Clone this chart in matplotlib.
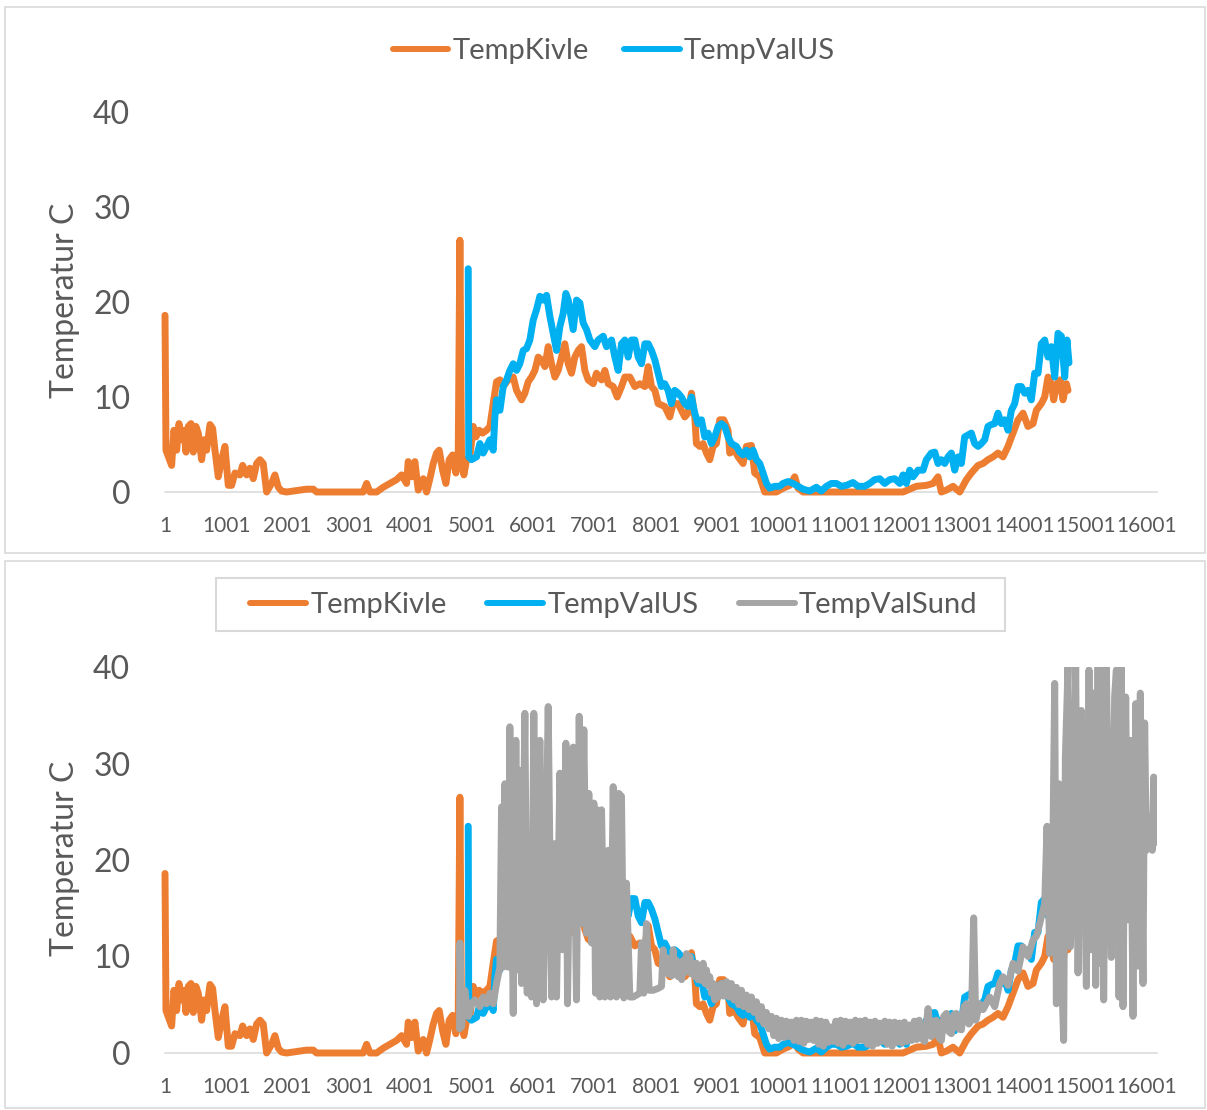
import matplotlib
matplotlib.use("Agg")
import matplotlib.pyplot as plt
from matplotlib.lines import Line2D
from matplotlib.patches import Rectangle

plt.rcParams['font.family'] = ['Lato', 'DejaVu Sans']

# Temperature logs, sample number vs. degrees C
kivle_idx = [1, 17, 109, 147, 191, 229, 272, 310, 343, 381, 424, 462, 505, 543, 598, 636, 679, 734, 777, 815,
             869, 924, 978, 1032, 1086, 1141, 1222, 1266, 1331, 1385, 1439, 1494, 1548, 1602, 1657, 1738, 1792,
             1847, 1901, 1982, 2308, 2417, 2471, 3231, 3286, 3340, 3449, 3557, 3666, 3774, 3856, 3937, 3964,
             4019, 4073, 4127, 4209, 4263, 4317, 4372, 4426, 4469, 4524, 4578, 4632, 4687, 4741, 4779, 4806,
             4833, 4871, 4915, 4969, 5023, 5067, 5121, 5175, 5240, 5295, 5349, 5403, 5458, 5512, 5593, 5675,
             5729, 5811, 5865, 5919, 5973, 6028, 6082, 6136, 6191, 6245, 6299, 6354, 6408, 6462, 6516, 6571,
             6625, 6679, 6734, 6788, 6842, 6897, 6978, 7032, 7114, 7168, 7223, 7304, 7369, 7440, 7494, 7575,
             7657, 7738, 7820, 7874, 7928, 7983, 8037, 8144, 8226, 8280, 8362, 8416, 8470, 8524, 8579, 8633,
             8660, 8715, 8769, 8823, 8877, 8932, 8986, 9040, 9105, 9176, 9203, 9285, 9339, 9420, 9475, 9556,
             9610, 9692, 9773, 9963, 10072, 10181, 10262, 10316, 10398, 12027, 12244, 12407, 12516, 12597,
             12651, 12733, 12841, 12950, 13059, 13140, 13249, 13330, 13411, 13493, 13574, 13656, 13737, 13819,
             13900, 13982, 14063, 14145, 14199, 14280, 14335, 14389, 14443, 14481, 14535, 14590, 14633, 14688,
             14715]
kivle_temp = [18.6, 4.4, 2.8, 6.5, 4.4, 7.2, 5.5, 6.5, 4.2, 6.9, 7.2, 4.2, 6.9, 6.2, 3.4, 5.5, 4.4, 7.1, 6.7, 4.4,
              1.6, 3.4, 4.8, 0.7, 0.7, 2.0, 1.8, 2.8, 1.8, 2.5, 1.4, 3.0, 3.4, 3.0, 0.0, 0.9, 1.8,
              0.5, 0.1, 0.0, 0.3, 0.3, 0.0, 0.0, 0.9, 0.0, 0.0, 0.5, 0.9, 1.3, 1.8, 0.9, 3.2,
              1.6, 3.2, 0.2, 1.4, 0.0, 1.4, 3.0, 4.1, 4.4, 2.3, 0.9, 3.4, 3.9, 2.0, 4.1, 26.5,
              3.4, 1.8, 3.4, 3.7, 6.9, 5.8, 6.5, 6.2, 6.5, 6.9, 9.3, 11.6, 11.8, 11.1, 11.8, 12.1,
              10.7, 9.7, 10.4, 11.6, 12.1, 12.8, 14.2, 13.9, 13.2, 15.3, 13.5, 12.1, 12.8, 14.2, 15.6, 13.5,
              12.5, 14.2, 14.9, 15.3, 12.8, 11.8, 11.4, 12.5, 11.8, 12.8, 11.4, 11.1, 10.0, 11.1, 12.1, 12.1,
              11.1, 11.4, 11.1, 13.2, 11.1, 10.7, 9.3, 9.0, 7.9, 9.3, 9.3, 8.6, 7.9, 8.3, 10.4, 7.9,
              5.1, 4.8, 5.1, 4.1, 3.4, 4.8, 5.1, 7.6, 7.6, 6.5, 4.1, 4.4, 3.7, 3.0, 4.8, 4.9,
              2.0, 1.6, 0.0, 0.0, 0.4, 0.7, 1.6, 0.4, 0.0, 0.0, 0.6, 0.7, 0.9, 1.6,
              0.0, 0.2, 0.6, 0.0, 1.3, 2.0, 2.8, 3.0, 3.4, 3.7, 4.1, 3.7, 4.8, 6.2,
              7.6, 8.3, 6.9, 7.2, 8.6, 9.3, 10.0, 12.1, 11.4, 9.7, 11.4, 11.8, 9.7, 11.4,
              10.7]

valus_idx = [4942, 4950, 4996, 5078, 5132, 5186, 5240, 5295, 5349, 5376, 5403, 5458, 5512, 5566, 5621, 5675,
             5729, 5783, 5838, 5892, 5946, 6001, 6055, 6109, 6164, 6218, 6272, 6326, 6381, 6435, 6489, 6533,
             6571, 6625, 6652, 6707, 6761, 6815, 6869, 6924, 7005, 7059, 7141, 7195, 7277, 7331, 7385, 7440,
             7494, 7548, 7602, 7657, 7711, 7765, 7820, 7874, 7928, 7983, 8037, 8090, 8144, 8199, 8253, 8307,
             8362, 8416, 8470, 8524, 8579, 8633, 8687, 8742, 8796, 8850, 8905, 8959, 9013, 9067, 9122, 9176,
             9230, 9312, 9366, 9420, 9475, 9529, 9583, 9638, 9692, 9746, 9801, 9855, 9936, 10018, 10072,
             10153, 10235, 10316, 10398, 10506, 10615, 10696, 10778, 10859, 10941, 11022, 11104, 11212, 11294,
             11402, 11484, 11565, 11647, 11728, 11810, 11891, 11973, 12027, 12081, 12135, 12190, 12271, 12353,
             12407, 12488, 12543, 12597, 12651, 12706, 12760, 12814, 12868, 12923, 12977, 13031, 13086, 13140,
             13194, 13249, 13303, 13357, 13411, 13466, 13520, 13574, 13629, 13683, 13737, 13792, 13846, 13900,
             13954, 14009, 14063, 14117, 14172, 14226, 14280, 14335, 14389, 14443, 14498, 14552, 14607, 14661,
             14698, 14731]
valus_temp = [23.5, 3.7, 3.4, 3.7, 5.1, 4.1, 4.8, 5.5, 4.4, 7.9, 9.7, 8.6, 11.1, 11.8, 12.8, 13.5,
              12.8, 13.5, 14.9, 15.1, 16.0, 18.1, 19.2, 20.6, 20.2, 20.7, 18.5, 16.7, 14.9, 17.4, 18.8, 20.9,
              20.2, 18.1, 17.1, 20.2, 19.9, 17.8, 17.1, 16.0, 15.3, 16.0, 16.4, 15.3, 16.0, 14.2, 12.8, 15.6,
              16.0, 14.2, 16.0, 16.0, 14.2, 13.5, 15.6, 15.6, 14.9, 13.9, 12.5, 11.1, 11.4, 10.7, 9.3, 10.7,
              10.4, 10.0, 9.3, 9.0, 10.0, 8.3, 7.2, 7.6, 5.8, 6.2, 5.1, 5.8, 6.9, 7.2, 6.9, 5.8,
              5.1, 4.8, 4.2, 3.9, 4.4, 3.7, 4.4, 3.4, 3.0, 2.0, 0.9, 0.4, 0.6, 0.6, 0.9,
              1.1, 0.9, 0.6, 0.3, 0.1, 0.5, 0.1, 0.6, 0.9, 0.9, 0.6, 0.7, 1.0, 0.6,
              0.6, 0.9, 1.3, 1.4, 0.9, 1.3, 1.4, 0.9, 1.8, 0.9, 2.3, 1.6, 2.3, 2.3,
              3.4, 4.1, 4.2, 3.0, 3.4, 3.0, 3.7, 4.1, 2.3, 3.7, 3.0, 5.8, 6.0, 6.2,
              5.1, 4.8, 5.1, 5.5, 6.9, 7.1, 7.2, 8.3, 7.2, 7.6, 6.5, 8.6, 9.3, 11.1,
              11.1, 10.4, 10.7, 9.7, 12.5, 12.5, 15.6, 16.0, 14.2, 15.3, 12.1, 16.7, 16.4, 12.1,
              16.0, 13.6]

valsund_idx = [4800, 4806, 4833, 4887, 4942, 4996, 5050, 5132, 5186, 5240, 5295, 5349, 5403, 5457, 5485, 5512,
               5539, 5593, 5620, 5675, 5718, 5756, 5783, 5810, 5865, 5903, 5935, 5973, 6011, 6055, 6109, 6163,
               6207, 6245, 6299, 6353, 6381, 6435, 6478, 6533, 6560, 6609, 6652, 6706, 6750, 6788, 6826, 6869,
               6907, 6951, 6989, 7016, 7043, 7086, 7114, 7168, 7222, 7260, 7304, 7358, 7396, 7439, 7477, 7521,
               7575, 7629, 7684, 7738, 7765, 7803, 7847, 7890, 7955, 8037, 8091, 8118, 8150, 8172, 8200, 8227,
               8260, 8281, 8310, 8335, 8365, 8390, 8420, 8444, 8470, 8498, 8525, 8553, 8580, 8607, 8635, 8661,
               8690, 8715, 8745, 8770, 8800, 8824, 8850, 8878, 8905, 8933, 8960, 8987, 9020, 9068, 9100, 9150,
               9190, 9231, 9270, 9313, 9350, 9394, 9430, 9476, 9515, 9557, 9600, 9639, 9680, 9720, 9760, 9801,
               9840, 9883, 9920, 9964, 10000, 10046, 10090, 10127, 10170, 10209, 10250, 10290, 10330, 10370,
               10410, 10450, 10490, 10530, 10570, 10610, 10650, 10690, 10730, 10770, 10810, 10850, 10890, 10930,
               10970, 11010, 11050, 11090, 11130, 11170, 11210, 11250, 11290, 11330, 11370, 11410, 11450, 11490,
               11530, 11570, 11610, 11650, 11690, 11730, 11770, 11810, 11850, 11890, 11930, 11970, 12010, 12050,
               12090, 12130, 12170, 12210, 12250, 12290, 12330, 12380, 12434, 12489, 12530, 12570, 12610, 12652,
               12690, 12733, 12775, 12815, 12855, 12896, 12935, 12978, 13020, 13059, 13100, 13140, 13178, 13211,
               13276, 13331, 13439, 13521, 13602, 13656, 13738, 13819, 13901, 13982, 14064, 14145, 14199, 14254,
               14335, 14373, 14416, 14460, 14498, 14525, 14568, 14606, 14644, 14672, 14715, 14753, 14797, 14840,
               14878, 14932, 14970, 15014, 15057, 15095, 15133, 15166, 15204, 15231, 15274, 15296, 15340, 15383,
               15421, 15475, 15503, 15546, 15584, 15611, 15655, 15693, 15731, 15774, 15818, 15855, 15893, 15937,
               15964, 15991, 16018, 16056, 16089, 16111, 16143, 16165]
valsund_temp = [2.5, 11.4, 2.7, 6.5, 3.8, 5.1, 5.5, 4.8, 5.8, 5.1, 6.2, 5.1, 7.2, 8.9, 25.5, 8.9,
                27.9, 8.9, 33.8, 4.1, 32.4, 8.6, 29.3, 7.2, 35.2, 6.2, 21.0, 5.8, 35.2, 5.1, 32.4, 5.5,
                20.3, 35.9, 5.8, 21.7, 5.8, 29.0, 10.7, 32.1, 5.1, 28.6, 31.7, 5.5, 34.9, 13.4, 33.5, 12.4,
                26.9, 11.4, 25.9, 6.2, 25.2, 5.8, 25.2, 5.8, 21.0, 5.8, 27.6, 5.8, 26.9, 26.6, 5.7, 17.6,
                5.8, 5.8, 6.0, 6.2, 11.4, 6.2, 13.4, 6.5, 6.5, 6.7, 6.9, 10.7, 8.6, 9.9, 8.2, 9.6,
                8.0, 10.7, 8.3, 9.6, 7.9, 8.9, 7.6, 9.6, 8.3, 10.3, 8.6, 10.0, 8.2, 9.3, 7.9, 9.3,
                7.6, 8.9, 7.5, 9.3, 7.2, 8.6, 7.0, 7.9, 6.2, 7.2, 5.5, 7.0, 5.8, 7.2, 5.9, 7.4,
                5.8, 7.2, 5.5, 6.8, 5.0, 6.5, 4.8, 6.0, 4.5, 5.8, 4.2, 5.3, 3.5, 4.8, 3.0, 4.2,
                2.5, 3.8, 1.8, 3.6, 1.5, 3.4, 1.6, 3.3, 1.7, 3.2, 1.3, 3.4, 1.2, 3.4,
                1.0, 3.3, 1.4, 3.2, 1.3, 3.4, 0.9, 3.3, 0.7, 3.2, 1.1, 2.7, 1.2, 3.3,
                1.0, 3.4, 0.8, 3.3, 1.2, 3.2, 1.0, 3.4, 1.3, 3.3, 1.3, 3.4, 0.9, 3.2,
                0.7, 3.3, 1.0, 3.1, 1.2, 3.3, 0.9, 3.2, 0.7, 3.2, 1.1, 3.1, 1.0, 3.2,
                1.2, 2.9, 1.3, 3.3, 1.4, 3.4, 1.5, 1.2, 4.6, 1.7, 3.3, 3.4, 1.6, 1.3,
                3.8, 4.1, 2.2, 2.0, 4.0, 4.1, 2.5, 2.4, 4.8, 5.1, 3.0, 3.4, 14.0, 3.4,
                5.1, 4.5, 5.8, 4.8, 7.2, 7.9, 7.0, 9.3, 8.5, 11.0, 10.0, 11.7, 12.1, 13.4,
                15.5, 23.5, 10.3, 16.7, 38.3, 5.1, 27.9, 9.0, 1.3, 30.7, 40.0, 11.0, 17.6, 40.0,
                8.3, 35.5, 24.5, 6.9, 39.7, 10.7, 37.3, 7.0, 40.0, 9.3, 40.0, 5.5, 40.0, 21.0,
                9.9, 37.0, 39.7, 5.8, 40.0, 4.8, 36.9, 13.8, 32.4, 3.8, 36.2, 9.0, 37.3, 7.2,
                34.2, 21.0, 24.5, 22.8, 21.0, 28.6, 21.8, 22.4]

x_ticks = [1, 1001, 2001, 3001, 4001, 5001, 6001, 7001, 8001, 9001, 10001, 11001, 12001, 13001, 14001, 15001, 16001]
y_ticks = [0, 10, 20, 30, 40]

ORANGE = '#ED7D31'
BLUE = '#00B0F0'
GREY = '#A5A5A5'
TEXT = '#595959'
RULE = '#D9D9D9'
LW = 5.0

W, H = 1207, 1110
fig = plt.figure(figsize=(W / 100, H / 100), dpi=100)


def fig_box(x0, y0, x1, y1):
    """Rectangle in figure fraction from pixel corners (origin top-left)."""
    return [x0 / W, 1 - y1 / H, (x1 - x0) / W, (y1 - y0) / H]


# chart area borders
for box in (fig_box(5, 7, 1205, 553), fig_box(5, 561, 1205, 1108)):
    fig.add_artist(Rectangle(box[:2], box[2], box[3], transform=fig.transFigure,
                             fill=False, edgecolor=RULE, lw=1.2, zorder=0))


def style_axes(ax):
    ax.set_xlim(1, 16165)
    ax.set_ylim(0, 40)
    ax.set_xticks(x_ticks)
    ax.set_xticklabels([str(t) for t in x_ticks])
    ax.set_yticks(y_ticks)
    ax.tick_params(axis='both', length=0, colors=TEXT)
    ax.tick_params(axis='x', labelsize=15, pad=17)
    ax.tick_params(axis='y', labelsize=23, pad=25)
    for side in ('left', 'top', 'right'):
        ax.spines[side].set_visible(False)
    ax.spines['bottom'].set_color(RULE)
    ax.spines['bottom'].set_linewidth(1.1)
    ax.spines['bottom'].set_zorder(1)
    ax.patch.set_alpha(0)


def draw(ax, x, y, color, clip=True):
    ax.plot(x, y, color=color, lw=LW, solid_capstyle='round', solid_joinstyle='round',
            clip_on=clip, zorder=2)


def handle(color):
    return Line2D([], [], color=color, lw=4.3, solid_capstyle='round')


# upper chart: two loggers
ax1 = fig.add_axes(fig_box(165, 112, 1157, 492))
style_axes(ax1)
draw(ax1, kivle_idx, kivle_temp, ORANGE, clip=False)
draw(ax1, valus_idx, valus_temp, BLUE, clip=False)
fig.text(65 / W, 1 - 300 / H, 'Temperatur C', rotation=90, ha='center', va='center',
         fontsize=23, color=TEXT)
fig.legend([handle(ORANGE), handle(BLUE)], ['TempKivle', 'TempValUS'],
           loc='center', bbox_to_anchor=(614 / W, 1 - 51 / H), ncol=2, frameon=False,
           fontsize=21, handlelength=1.9, handletextpad=0.15, columnspacing=1.2,
           labelcolor=TEXT)

# lower chart: three loggers
ax2 = fig.add_axes(fig_box(165, 667, 1157, 1053))
style_axes(ax2)
draw(ax2, kivle_idx, kivle_temp, ORANGE, clip=False)
draw(ax2, valus_idx, valus_temp, BLUE, clip=False)
draw(ax2, valsund_idx, valsund_temp, GREY)
fig.text(65 / W, 1 - 858 / H, 'Temperatur C', rotation=90, ha='center', va='center',
         fontsize=23, color=TEXT)
lb = fig_box(216, 578, 1005, 631)
fig.add_artist(Rectangle(lb[:2], lb[2], lb[3], transform=fig.transFigure,
                         fill=False, edgecolor=RULE, lw=1.5))
fig.legend([handle(ORANGE), handle(BLUE), handle(GREY)], ['TempKivle', 'TempValUS', 'TempValSund'],
           loc='center', bbox_to_anchor=(614 / W, 1 - 605 / H), ncol=3, frameon=False,
           fontsize=21, handlelength=1.9, handletextpad=0.15, columnspacing=1.4,
           labelcolor=TEXT)

fig.savefig('out.png', dpi=100)
